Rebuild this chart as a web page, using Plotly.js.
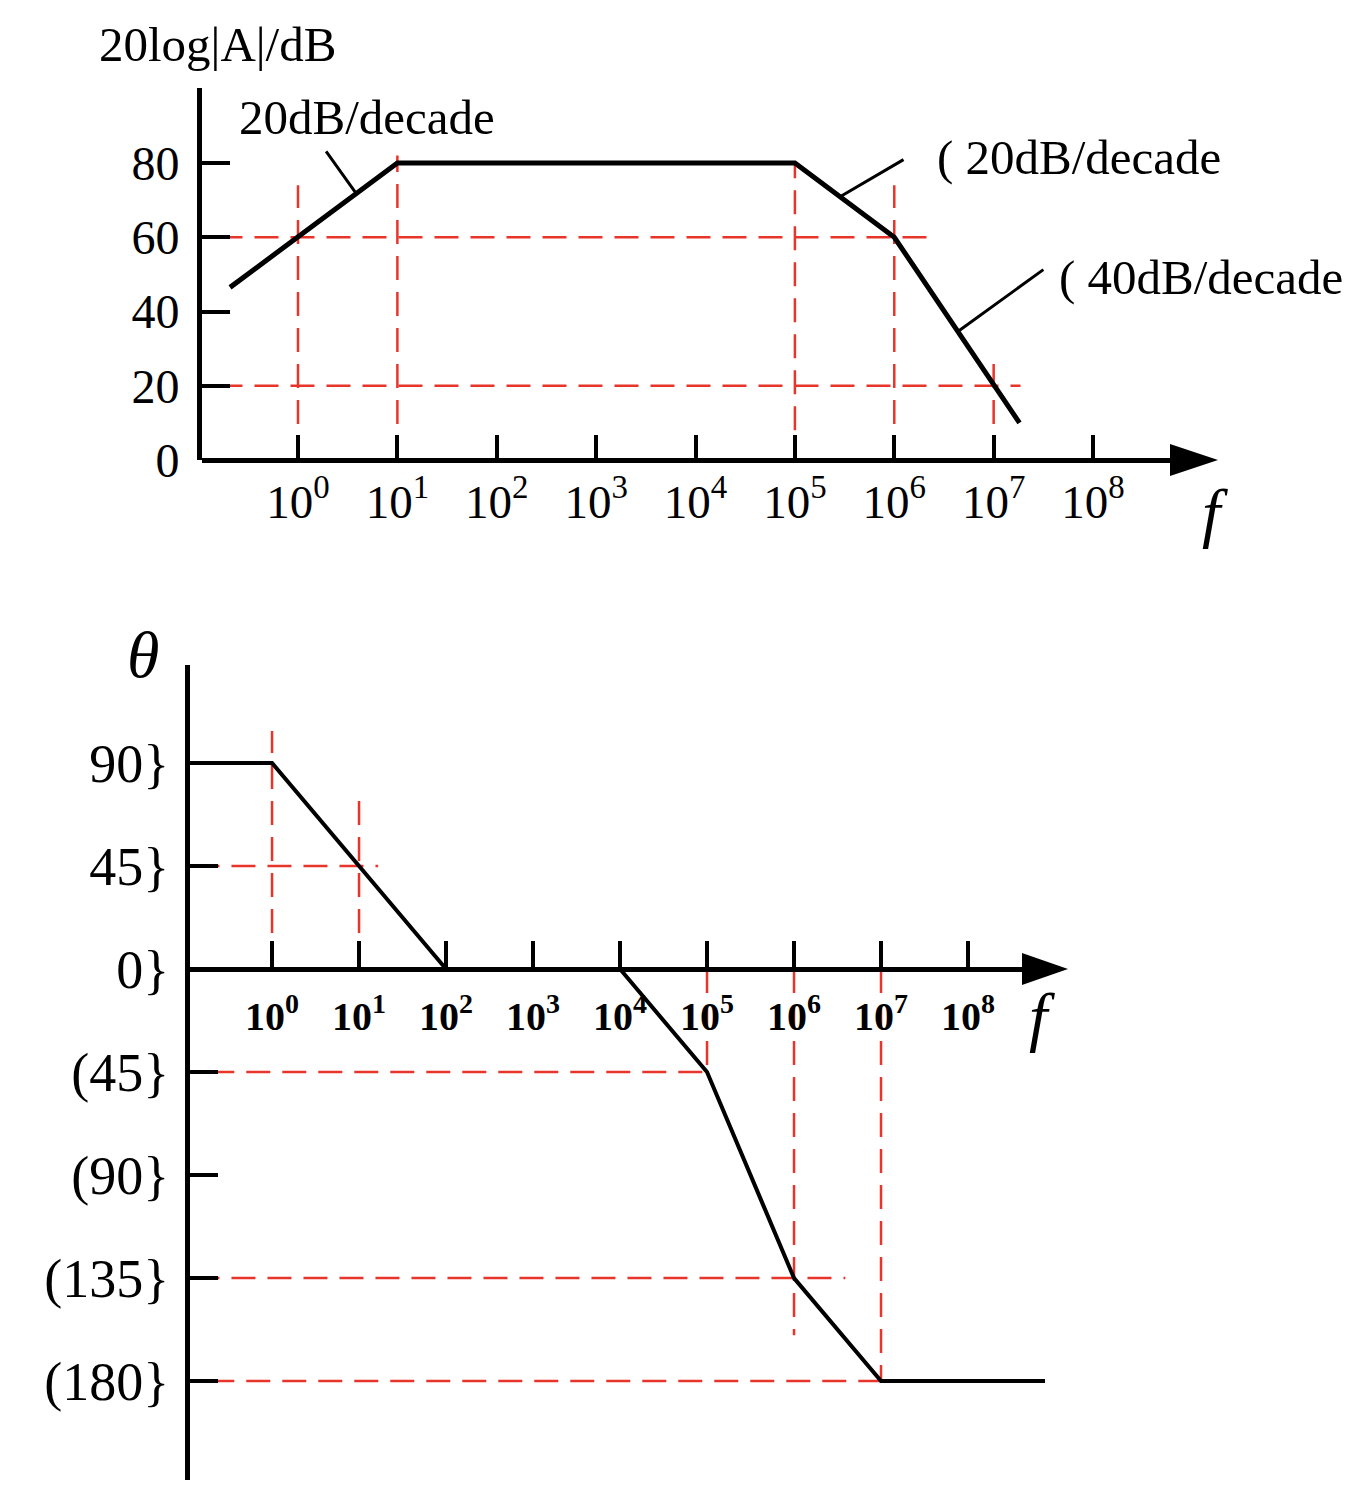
<!DOCTYPE html>
<html><head><meta charset="utf-8">
<script src="https://cdn.plot.ly/plotly-3.0.1.min.js"></script>
<style>body{margin:0;background:#fff}#c{width:1372px;height:1496px}</style>
</head><body><div id="c"></div>
<script>
// ---------- data ----------
const decadeExp = [0,1,2,3,4,5,6,7,8];
const tickLabelsTop = decadeExp.map(e => '10<sup>' + e + '</sup>');
const tickLabelsBottom = decadeExp.map(e => '<b>10<sup>' + e + '</sup></b>');
const magTicks = [0,20,40,60,80];
const magTickText = ['0','20','40','60','80'];
const phaseTicks = [90,45,0,-45,-90,-135,-180];
const phaseTickText = ['90}','45}','0}','(45}','(90}','(135}','(180}'];

// magnitude asymptote (log10 f, dB)
const magLogF = [-0.684, 1, 5, 6, 7.26];
const magDb   = [46.5, 80, 80, 60, 10];

// phase asymptote (log10 f, deg); null splits the two segments
const phLogF = [-0.96, 0, 2, null, 4, 5, 6, 7, 8.885];
const phDeg  = [90, 90, 0, null, 0, -45, -135, -180, -180];

// red dashed guides, magnitude: vertical [logf, y0, y1], horizontal [y, logf0, logf1]
const magVGuides = [[0, 0, 74], [1, 0, 82], [5, 8, 80], [6, 0, 74], [7, 0, 29]];
const magHGuides = [[60, -0.8, 6.4], [20, -0.8, 7.27]];
// red dashed guides, phase
const phVGuides = [[0, 0, 104], [1, 0, 77], [5, 0, -45], [6, 0, -160], [7, 0, -180]];
const phHGuides = [[45, -0.88, 1.22], [-45, -0.71, 5], [-135, -0.88, 6.59], [-180, -0.71, 7]];

// ---------- helpers ----------
const W = 1372, H = 1496;
const px = p => p / W, py = p => 1 - p / H;
const pow10 = v => v === null ? null : Math.pow(10, v);
const FONT = 'Liberation Serif, Times New Roman, serif';
const RED = '#e8352b';
const DASH = '24px,12px';

const traces = [];
function guides(V, Hh, xa, ya) {
  V.forEach(g => traces.push({x:[pow10(g[0]), pow10(g[0])], y:[g[1], g[2]], xaxis:xa, yaxis:ya,
    mode:'lines', line:{color:RED, width:2.5, dash:DASH}, hoverinfo:'skip', showlegend:false, cliponaxis:false}));
  Hh.forEach(g => traces.push({x:[pow10(g[1]), pow10(g[2])], y:[g[0], g[0]], xaxis:xa, yaxis:ya,
    mode:'lines', line:{color:RED, width:2.5, dash:DASH}, hoverinfo:'skip', showlegend:false, cliponaxis:false}));
}
guides(magVGuides, magHGuides, 'x', 'y');
guides(phVGuides, phHGuides, 'x2', 'y2');

traces.push({x: magLogF.map(pow10), y: magDb, xaxis:'x', yaxis:'y', mode:'lines',
  line:{color:'black', width:5}, showlegend:false, cliponaxis:false});
traces.push({x: phLogF.map(pow10), y: phDeg, xaxis:'x2', yaxis:'y2', mode:'lines',
  line:{color:'black', width:4}, showlegend:false, connectgaps:false, cliponaxis:false});

const axCommon = {showgrid:false, zeroline:false, showline:true, linecolor:'black', linewidth:5,
  ticks:'inside', tickcolor:'black', tickwidth:4};

const layout = {
  width: W, height: H, margin:{l:0,r:0,t:0,b:0}, paper_bgcolor:'white', plot_bgcolor:'rgba(0,0,0,0)',
  showlegend:false,
  xaxis: Object.assign({}, axCommon, {type:'log', domain:[px(202), px(1195)], range:[-0.966, 9.026],
    anchor:'y', showline:false, ticklen:25, tickvals: decadeExp.map(pow10), ticktext: tickLabelsTop,
    tickfont:{family:FONT, size:47, color:'black'}, ticklabelstandoff:10}),
  yaxis: Object.assign({}, axCommon, {domain:[py(460), py(88)], range:[0, 100.2], anchor:'x',
    zeroline:true, zerolinecolor:'black', zerolinewidth:5,
    ticklen:28, tickvals: magTicks, ticktext: magTickText,
    tickfont:{family:FONT, size:48, color:'black'}, ticklabelstandoff:8}),
  xaxis2: Object.assign({}, axCommon, {type:'log', domain:[px(190), px(1045)], range:[-0.943, 8.885],
    anchor:'free', position: py(969), ticklen:26, tickvals: decadeExp.map(pow10), ticktext: tickLabelsBottom,
    tickfont:{family:FONT, size:40, color:'black', weight:'bold'}, ticklabelstandoff:10}),
  yaxis2: Object.assign({}, axCommon, {domain:[py(1480), py(665)], range:[-223.2, 132.8], anchor:'x2',
    ticklen:28, tickvals: phaseTicks, ticktext: phaseTickText,
    tickfont:{family:FONT, size:54, color:'black'}, ticklabelstandoff:5}),
  shapes: [
    {type:'path', xref:'paper', yref:'paper', fillcolor:'black', line:{width:0},
     path:`M ${px(1218)},${py(460)} L ${px(1170)},${py(444)} L ${px(1170)},${py(476)} Z`},
    {type:'path', xref:'paper', yref:'paper', fillcolor:'black', line:{width:0},
     path:`M ${px(1068)},${py(969)} L ${px(1022)},${py(953)} L ${px(1022)},${py(985)} Z`}
  ],
  annotations: [
    {xref:'paper', yref:'paper', x:px(97), y:py(45), xanchor:'left', yanchor:'middle', showarrow:false,
     text:'20log|A|/dB', font:{family:FONT, size:49, color:'black'}},
    {xref:'paper', yref:'paper', x:px(237), y:py(118), xanchor:'left', yanchor:'middle', showarrow:false,
     text:'20dB/decade', font:{family:FONT, size:49, color:'black'}},
    {xref:'paper', yref:'paper', x:px(935), y:py(157), xanchor:'left', yanchor:'middle', showarrow:false,
     text:'( 20dB/decade', font:{family:FONT, size:49, color:'black'}},
    {xref:'paper', yref:'paper', x:px(1057), y:py(277), xanchor:'left', yanchor:'middle', showarrow:false,
     text:'( 40dB/decade', font:{family:FONT, size:49, color:'black'}},
    {xref:'paper', yref:'paper', x:px(1215), y:py(512), xanchor:'center', yanchor:'middle', showarrow:false,
     text:'<i>f</i>', font:{family:FONT, size:66, color:'black'}},
    {xref:'paper', yref:'paper', x:px(1042), y:py(1016), xanchor:'center', yanchor:'middle', showarrow:false,
     text:'<i>f</i>', font:{family:FONT, size:66, color:'black'}},
    {xref:'paper', yref:'paper', x:px(143), y:py(654), xanchor:'center', yanchor:'middle', showarrow:false,
     text:'<i>θ</i>', font:{family:FONT, size:66, color:'black'}},
    // leader lines
    {xref:'x', yref:'y', x:0.574, y:72.2, ax:-30, ay:-42, text:'', showarrow:true, arrowhead:0, arrowwidth:3, arrowcolor:'black'},
    {xref:'x', yref:'y', x:5.454, y:70.9, ax:65, ay:-38, text:'', showarrow:true, arrowhead:0, arrowwidth:3, arrowcolor:'black'},
    {xref:'x', yref:'y', x:6.64, y:34.6, ax:87, ay:-63, text:'', showarrow:true, arrowhead:0, arrowwidth:3, arrowcolor:'black'}
  ]
};

Plotly.newPlot('c', traces, layout, {staticPlot:true, displayModeBar:false});
</script>
</body></html>
